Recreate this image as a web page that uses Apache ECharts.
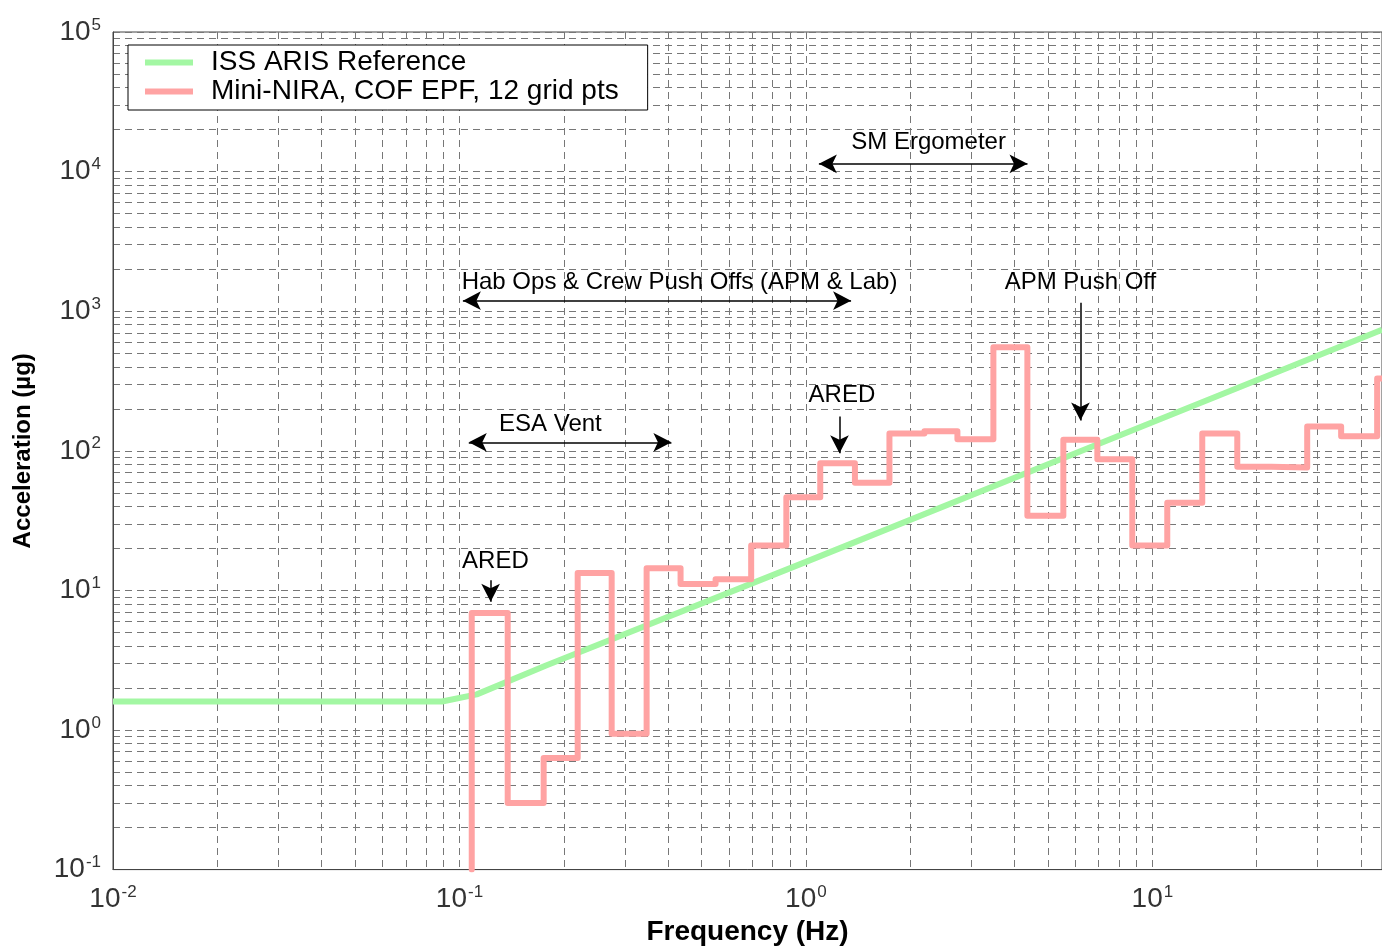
<!DOCTYPE html>
<html><head><meta charset="utf-8">
<script src="https://cdn.jsdelivr.net/npm/echarts@6/dist/echarts.min.js"></script>
<style>html,body{margin:0;padding:0;background:#fff}#c{width:1382px;height:951px}</style>
</head><body><div id="c"></div>
<script>
// ---- data ----
const seriesNames = ['ISS ARIS Reference', 'Mini-NIRA, COF EPF, 12 grid pts'];
// ISS ARIS reference curve (Hz, micro-g)
const arisFreq  = [0.01, 0.0891, 0.1122, 0.1778, 1, 10, 46];
const arisAccel = [1.6, 1.6, 1.8, 2.9, 16, 160, 736];
// Mini-NIRA one-third-octave band lower edges (Hz) and band RMS levels (micro-g)
const bandEdges = [0.1085, 0.1378, 0.1750, 0.2194, 0.2750, 0.3469, 0.4347, 0.5486, 0.6950, 0.8780,
                   1.100, 1.385, 1.742, 2.198, 2.737, 3.476, 4.357, 5.534, 6.937, 8.750,
                   11.04, 13.93, 17.58, 22.02, 27.98, 35.06, 44.54, 56.0];
const miniNira  = [6.9, 0.30, 0.63, 13.3, 0.94, 14.4, 11.1, 12, 21, 46.5,
                   81.5, 59, 133, 138, 121, 552, 34.3, 120, 87, 21,
                   42.4, 133, 77, 76, 149, 127, 329, 329];
// annotations: [label, x, y] and arrows [x1, y1, x2, y2, doubleHeaded]
const annoLabels = [
  ['SM Ergometer', 2.26, 16300],
  ['Hab Ops & Crew Push Offs (APM & Lab)', 0.4317, 1600],
  ['APM Push Off', 6.2, 1600],
  ['ARED', 1.27, 248],
  ['ESA Vent', 0.183, 154],
  ['ARED', 0.127, 16.1]
];
const annoArrows = [
  [1.09, 11370, 4.36, 11370, true],
  [0.1023, 1190, 1.35, 1190, true],
  [6.2, 1150, 6.2, 165, false],
  [1.25, 176, 1.25, 96, false],
  [0.1064, 115, 0.409, 115, true],
  [0.123, 11.8, 0.123, 8.3, false]
];

// ---- build ----
const FONT = "'Liberation Sans', Arial, Helvetica, sans-serif";
const arisData = arisFreq.map((f, i) => [f, arisAccel[i]]);
const niraData = [[bandEdges[0], 0.1]].concat(bandEdges.map((f, i) => [f, miniNira[i]]));

function powLabel(v) {
  const e = Math.log10(v);
  const r = Math.round(e);
  if (Math.abs(e - r) > 1e-6) return '';
  return '{b|10}{s|' + r + '}';
}
const rich = {
  b: {fontSize: 28, fontFamily: FONT, color: '#333'},
  s: {fontSize: 17, fontFamily: FONT, color: '#333', verticalAlign: 'bottom', padding: [0, 0, 14, 1]}
};
const gridDash = {color: '#777', type: [7, 5], width: 1};

const chart = echarts.init(document.getElementById('c'), null, {renderer: 'canvas'});
chart.setOption({
  animation: false,
  backgroundColor: '#fff',
  grid: {left: 113, top: 32, width: 1270, bottom: 74, show: true, borderColor: '#444', borderWidth: 1, containLabel: false},
  legend: {
    orient: 'vertical', left: 128, top: 45,
    data: seriesNames,
    icon: 'rect', itemWidth: 48, itemHeight: 6, itemGap: 0,
    padding: [3, 29, 4, 17],
    backgroundColor: '#fff', borderColor: '#000', borderWidth: 1,
    textStyle: {fontSize: 28, fontFamily: FONT, color: '#000', padding: [0, 0, 0, 13], lineHeight: 29}
  },
  xAxis: {
    type: 'log', logBase: 10, min: 0.01, max: 46, splitNumber: 4,
    name: 'Frequency (Hz)', nameLocation: 'middle', nameGap: 48,
    nameTextStyle: {fontSize: 28, fontWeight: 'bold', fontFamily: FONT, color: '#000'},
    axisLine: {show: true, lineStyle: {color: '#444', width: 1}},
    axisTick: {show: false},
    axisLabel: {formatter: powLabel, rich: rich, margin: 14, showMaxLabel: false},
    splitLine: {show: true, lineStyle: gridDash},
    minorTick: {show: false, splitNumber: 9},
    minorSplitLine: {show: true, lineStyle: gridDash}
  },
  yAxis: {
    type: 'log', logBase: 10, min: 0.1, max: 100000, splitNumber: 6,
    name: 'Acceleration (\u00b5g)', nameLocation: 'middle', nameGap: 78, nameRotate: 90,
    nameTextStyle: {fontSize: 24, fontWeight: 'bold', fontFamily: FONT, color: '#000'},
    axisLine: {show: true, lineStyle: {color: '#444', width: 1}},
    axisTick: {show: false},
    axisLabel: {formatter: powLabel, rich: rich, margin: 12},
    splitLine: {show: true, lineStyle: gridDash},
    minorTick: {show: false, splitNumber: 9},
    minorSplitLine: {show: true, lineStyle: gridDash}
  },
  series: [
    {
      name: seriesNames[0], type: 'line', data: arisData, showSymbol: false, symbol: 'none',
      lineStyle: {color: '#a3f7a3', width: 6}, itemStyle: {color: '#a3f7a3'}, z: 3, clip: true
    },
    {
      name: seriesNames[1], type: 'line', data: niraData, step: 'end', showSymbol: false, symbol: 'none',
      lineStyle: {color: '#ffa3a3', width: 6, join: 'round', cap: 'round'}, itemStyle: {color: '#ffa3a3'}, z: 4, clip: true
    },
    {
      name: 'annotations', type: 'line', data: [], z: 6, silent: true,
      markLine: {
        silent: true, animation: false,
        lineStyle: {color: '#000', width: 1.5, type: 'solid'},
        label: {show: false},
        symbolSize: [14, 18],
        data: annoArrows.map(a => [
          {coord: [a[0], a[1]], symbol: a[4] ? 'arrow' : 'none'},
          {coord: [a[2], a[3]], symbol: 'arrow'}
        ])
      },
      markPoint: {
        silent: true, animation: false,
        symbol: 'circle', symbolSize: 1, itemStyle: {color: 'rgba(0,0,0,0)'},
        label: {show: true, position: 'inside', color: '#000', fontSize: 24, fontFamily: FONT, formatter: p => p.name},
        data: annoLabels.map(a => ({name: a[0], coord: [a[1], a[2]]}))
      }
    }
  ]
});
</script>
</body></html>
